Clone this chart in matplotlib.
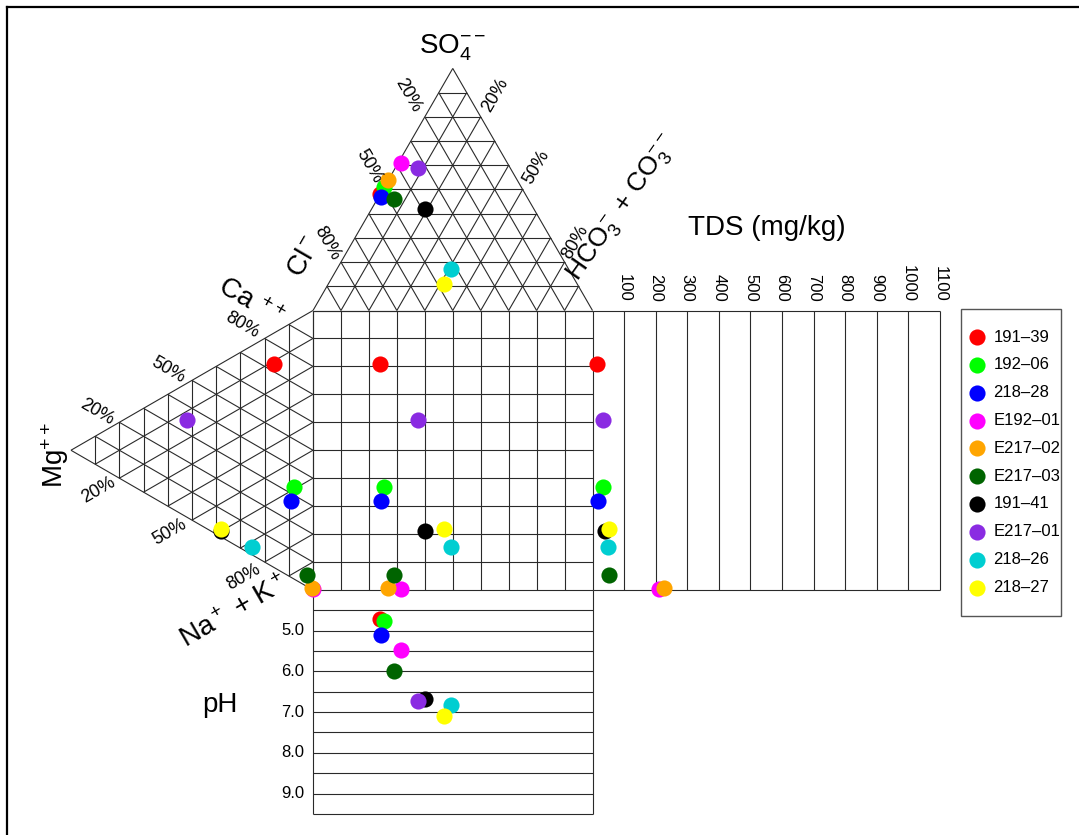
import numpy as np
import matplotlib.pyplot as plt
from matplotlib.lines import Line2D
from matplotlib.patches import Rectangle

plt.rcParams['font.family'] = ['Liberation Sans', 'DejaVu Sans']
plt.rcParams['mathtext.fontset'] = 'custom'
plt.rcParams['mathtext.rm'] = 'Liberation Sans'
plt.rcParams['mathtext.it'] = 'Liberation Sans'
plt.rcParams['mathtext.bf'] = 'Liberation Sans:bold'

# ---- data ----
samples = ['191–39', '192–06', '218–28', 'E192–01', 'E217–02',
           'E217–03', '191–41', 'E217–01', '218–26', '218–27']
colors = ['#FF0000', '#00FF00', '#0000FF', '#FF00FF', '#FFA500',
          '#006400', '#000000', '#8A2BE2', '#00CED1', '#FFFF00']

# anions, % meq
so4 = np.array([48, 51, 47, 61, 54, 46, 42, 59, 17, 11])
hco3 = np.array([0, 0, 1, 1, 0, 6, 19, 8, 41, 41.5])
cl = 100 - so4 - hco3

# cations, % meq
ca = np.array([73, 33, 27.5, 0.5, 0.5, 4, 2, 35, 3, 3])
mg = np.array([16, 8, 9, 0, 0.4, 2.5, 38, 52, 25, 38])
na_k = 100 - ca - mg

tds = np.array([15, 34, 18, 210, 226, 53, 39, 34, 50, 53])
ph = np.array([4.72, 4.75, 5.11, 5.47, np.nan, 5.99, 6.69, 6.73, 6.83, 7.10])

tds_ticks = np.arange(100, 1200, 100)
ph_ticks = [5.0, 6.0, 7.0, 8.0, 9.0]
ph_lines = np.arange(4.5, 9.5, 0.5)
pct = ['20%', '50%', '80%']

# ---- geometry (square side = 1) ----
H = np.sqrt(3) / 2
TDS_MAX = 1100
TDS_W = 1.243
PH_MIN, PH_MAX = 4.0, 9.5
PH_H = 0.801
lc = '#2a2a2a'
lw = 0.8


def anion_xy(s, h):
    return h + 0.5 * s, 1 + H * s


def cation_xy(c, m):
    return -H * m, c + 0.5 * m


def tds_x(t):
    return 1 + t / TDS_MAX * TDS_W


def ph_y(p):
    return -(p - PH_MIN) / (PH_MAX - PH_MIN) * PH_H


def seg(ax, p, q):
    ax.plot([p[0], q[0]], [p[1], q[1]], color=lc, lw=lw, solid_capstyle='butt')


fig = plt.figure(figsize=(10.79, 8.35), dpi=100)
ax = fig.add_axes([0, 0, 1, 1])
ax.set_xlim(-313 / 279.5, (1079 - 313) / 279.5)
ax.set_ylim((590 - 835) / 279.5, 590 / 279.5)
ax.axis('off')

f = np.linspace(0, 1, 11)

# square
for t in f:
    seg(ax, (t, 0), (t, 1))
    seg(ax, (0, t), (1, t))

# top triangle (anions)
for t in f[:-1]:
    seg(ax, anion_xy(t, 0), anion_xy(t, 1 - t))          # const SO4
    seg(ax, anion_xy(0, 1 - t), anion_xy(1 - t, 0))      # const Cl
    seg(ax, anion_xy(0, t), anion_xy(1 - t, t))          # const HCO3

# left triangle (cations)
for t in f[:-1]:
    seg(ax, cation_xy(1 - t, 0), cation_xy(0, 1 - t))    # const Na+K
    seg(ax, cation_xy(1 - t, t), cation_xy(0, t))        # const Mg
    seg(ax, cation_xy(t, 0), cation_xy(t, 1 - t))        # const Ca

# TDS strip
xr = tds_x(TDS_MAX)
seg(ax, (1, 0), (xr, 0))
seg(ax, (1, 1), (xr, 1))
for t in tds_ticks:
    seg(ax, (tds_x(t), 0), (tds_x(t), 1))
    ax.text(tds_x(t), 1.03, str(t), rotation=270, ha='center', va='bottom', fontsize=12)

# pH strip
yb = ph_y(PH_MAX)
seg(ax, (0, 0), (0, yb))
seg(ax, (1, 0), (1, yb))
seg(ax, (0, yb), (1, yb))
for p in ph_lines:
    seg(ax, (0, ph_y(p)), (1, ph_y(p)))
for p in ph_ticks:
    ax.text(-0.032, ph_y(p), f'{p:.1f}', ha='right', va='center', fontsize=12)

# points
sx, sy = anion_xy(so4 / 100, hco3 / 100)
cx, cy = cation_xy(ca / 100, mg / 100)
ms = 135
for i in range(len(samples)):
    ax.scatter(sx[i], sy[i], s=ms, color=colors[i], zorder=3, linewidths=0)
    ax.scatter(cx[i], cy[i], s=ms, color=colors[i], zorder=3, linewidths=0)
    ax.scatter(sx[i], cy[i], s=ms, color=colors[i], zorder=3, linewidths=0, label=samples[i])
    ax.scatter(tds_x(tds[i]), cy[i], s=ms, color=colors[i], zorder=3, linewidths=0)
    if not np.isnan(ph[i]):
        ax.scatter(sx[i], ph_y(ph[i]), s=ms, color=colors[i], zorder=3, linewidths=0)

# axis titles
big = 20
ax.text(0.5, 1.94, r'SO$_4^{--}$', ha='center', va='center', fontsize=big)
ax.text(-0.03, 1.19, r'Cl$^-$', ha='center', va='center', fontsize=big, rotation=60)
ax.text(1.106, 1.365, r'HCO$_3^-$ + CO$_3^{--}$', ha='center', va='center', fontsize=19, rotation=55)
ax.text(1.624, 1.295, 'TDS (mg/kg)', ha='center', va='center', fontsize=big)
ax.text(-0.225, 1.027, r'Ca $^{++}$', ha='center', va='center', fontsize=big, rotation=-30)
ax.text(-0.923, 0.483, r'Mg$^{++}$', ha='center', va='center', fontsize=big, rotation=90)
ax.text(-0.279, -0.079, r'Na$^+$ + K$^+$', ha='center', va='center', fontsize=big, rotation=30)
ax.text(-0.333, -0.411, 'pH', ha='center', va='center', fontsize=big)

# percent labels
ps = 13
for lab, (u, v) in zip(pct, [(0.341, 1.771), (0.201, 1.514), (0.049, 1.240)]):
    ax.text(u, v, lab, ha='center', va='center', fontsize=ps, rotation=-60)
for lab, (u, v) in zip(pct, [(0.651, 1.771), (0.798, 1.514), (0.937, 1.243)]):
    ax.text(u, v, lab, ha='center', va='center', fontsize=ps, rotation=60)
for lab, (u, v) in zip(pct, [(-0.774, 0.638), (-0.518, 0.787), (-0.255, 0.948)]):
    ax.text(u, v, lab, ha='center', va='center', fontsize=ps, rotation=-30)
for lab, (u, v) in zip(pct, [(-0.768, 0.358), (-0.512, 0.209), (-0.249, 0.048)]):
    ax.text(u, v, lab, ha='center', va='center', fontsize=ps, rotation=30)

# legend entries, with a separate box around them
ax.legend(loc='upper left', bbox_to_anchor=(968.5 / 1079, 1 - 329.5 / 835),
          bbox_transform=fig.transFigure, fontsize=12, frameon=False,
          handlelength=1.0, handletextpad=0.5, labelspacing=0.77,
          borderpad=0, borderaxespad=0)
fig.add_artist(Rectangle((961 / 1079, 1 - 616 / 835), 100 / 1079, 307 / 835,
                         transform=fig.transFigure, fill=False,
                         edgecolor='#555555', lw=1.0))

# frame of the picture (top and left edges only)
fig.add_artist(Line2D([7 / 1079, 1], [1 - 7 / 835] * 2, color='black', lw=1.6, transform=fig.transFigure))
fig.add_artist(Line2D([7 / 1079] * 2, [0, 1 - 7 / 835], color='black', lw=1.6, transform=fig.transFigure))

plt.savefig('out.png', dpi=100)
plt.close()
